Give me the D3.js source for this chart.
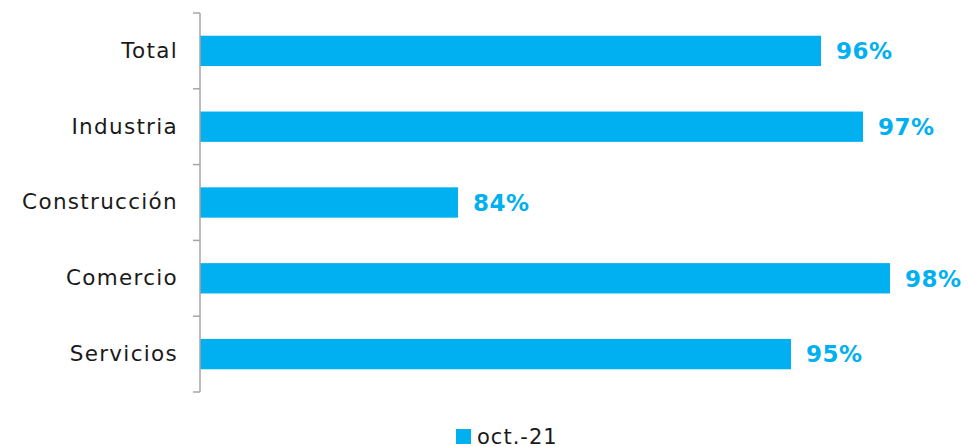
<!DOCTYPE html>
<html>
<head>
<meta charset="utf-8">
<script src="https://cdn.jsdelivr.net/npm/d3@7"></script>
<style>
  body { margin: 0; background: #fff; }
  text { font-family: "DejaVu Sans", "Noto Sans", sans-serif; }
</style>
</head>
<body>
<div id="chart"></div>
<script>
var categories = ["Total", "Industria", "Construcción", "Comercio", "Servicios"];
var values = [95.7, 97.1, 83.6, 98.0, 94.7];
var seriesName = "oct.-21";

var W = 968, H = 447,
    COLOR = "#00B0F0",
    AXIS_X = 200;

var svg = d3.select("#chart")
    .append("svg")
    .attr("width", W)
    .attr("height", H);

var x = d3.scaleLinear()
    .domain([75, 100])
    .range([AXIS_X, 950]);

var y = d3.scaleBand()
    .domain(categories)
    .range([13, 392])
    .paddingInner(0.6)
    .paddingOuter(0.3);

// bars
svg.selectAll("rect.bar")
    .data(values)
    .enter()
    .append("rect")
    .attr("class", "bar")
    .attr("x", x(75))
    .attr("y", function(d, i) { return y(categories[i]); })
    .attr("width", function(d) { return x(d) - x(75); })
    .attr("height", y.bandwidth())
    .style("fill", COLOR);

// value labels
svg.selectAll("text.val")
    .data(values)
    .enter()
    .append("text")
    .attr("class", "val")
    .attr("x", function(d) { return x(d) + 15; })
    .attr("y", function(d, i) { return y(categories[i]) + y.bandwidth() / 2; })
    .attr("dy", "0.36em")
    .style("font-size", "23px")
    .style("font-weight", "bold")
    .style("letter-spacing", "0.5px")
    .style("fill", COLOR)
    .text(function(d) { return Math.round(d) + "%"; });

// category axis
var yAxis = d3.axisLeft(y).tickSize(0).tickPadding(22);
var g = svg.append("g")
    .attr("transform", "translate(" + AXIS_X + ",0)")
    .call(yAxis);
g.select(".domain").remove();
g.selectAll("text")
    .style("font-size", "21.5px")
    .style("letter-spacing", "1.3px")
    .style("fill", "#1a1a1a")
    .attr("font-family", null);

// axis line and ticks between categories
var tickYs = d3.range(categories.length + 1).map(function(i) {
    return 13 + i * (379 / categories.length);
});
svg.append("line")
    .attr("x1", AXIS_X).attr("x2", AXIS_X)
    .attr("y1", 13).attr("y2", 392)
    .style("stroke", "#a6a6a6")
    .style("stroke-width", 1.5);
svg.selectAll("line.tick")
    .data(tickYs)
    .enter()
    .append("line")
    .attr("class", "tick")
    .attr("x1", AXIS_X - 7).attr("x2", AXIS_X)
    .attr("y1", function(d) { return d; })
    .attr("y2", function(d) { return d; })
    .style("stroke", "#a6a6a6")
    .style("stroke-width", 1.5);

// legend
svg.append("rect")
    .attr("x", 456).attr("y", 429)
    .attr("width", 15).attr("height", 15)
    .style("fill", COLOR);
svg.append("text")
    .attr("x", 477).attr("y", 444)
    .style("font-size", "21px")
    .style("letter-spacing", "1px")
    .style("fill", "#1a1a1a")
    .text(seriesName);
</script>
</body>
</html>
